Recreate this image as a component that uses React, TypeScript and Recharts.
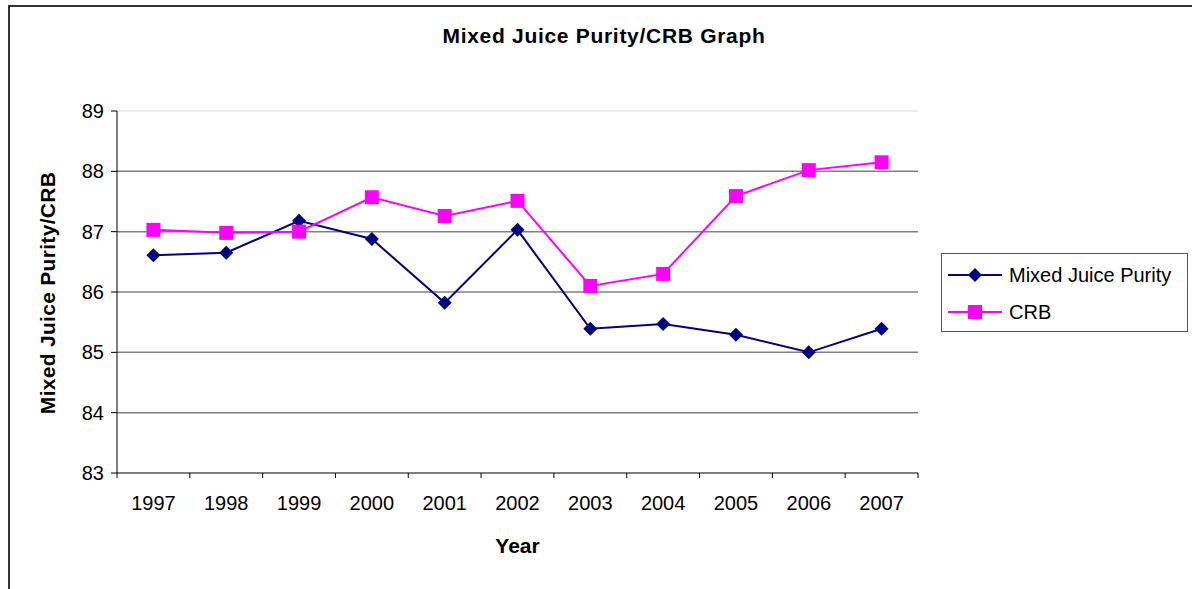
import React from "react";
import { LineChart, Line, XAxis, YAxis, CartesianGrid, ReferenceLine } from "recharts";

const years = ["1997", "1998", "1999", "2000", "2001", "2002", "2003", "2004", "2005", "2006", "2007"];
const mixedJuicePurity = [86.61, 86.65, 87.18, 86.88, 85.82, 87.03, 85.39, 85.47, 85.29, 85.0, 85.39];
const crb = [87.03, 86.98, 87.0, 87.57, 87.26, 87.51, 86.1, 86.3, 87.59, 88.02, 88.15];
const yTicks = [83, 84, 85, 86, 87, 88, 89];
const gridValues = [84, 85, 86, 87, 88];
const xBoundaries = [0, 1, 2, 3, 4, 5, 6, 7, 8, 9, 10, 11];

const data = years.map((y, i) => ({ x: i + 0.5, year: y, mjp: mixedJuicePurity[i], crb: crb[i] }));

const W = 1192;
const H = 589;
const M = { top: 111, right: 274, bottom: 56, left: 0 };
const Y_W = 117;
const X_H = 60;
const PLOT_W = W - M.left - M.right - Y_W;
const FONT = "'Liberation Sans', Arial, sans-serif";
const NAVY = "#000080";
const MAGENTA = "#FF00FF";

const Diamond = (props: any) => {
  const { cx, cy } = props;
  if (cx == null || cy == null) return null;
  const r = 7;
  return <polygon points={`${cx},${cy - r} ${cx + r},${cy} ${cx},${cy + r} ${cx - r},${cy}`} fill={NAVY} />;
};
const Square = (props: any) => {
  const { cx, cy } = props;
  if (cx == null || cy == null) return null;
  return <rect x={cx - 7} y={cy - 7} width={14} height={14} fill={MAGENTA} />;
};

const XTick = (props: any) => {
  const { x, y, payload } = props;
  const i = payload.value;
  if (i >= years.length) return null;
  const half = PLOT_W / years.length / 2;
  return (
    <text x={x + half} y={y} dy="0.71em" textAnchor="middle" fill="#000" fontSize={20} fontFamily={FONT}>
      {years[i]}
    </text>
  );
};

const LegendBox = () => (
  <div style={{ position: "absolute", left: 941, top: 253, width: 245, height: 77, border: "1px solid #555", background: "#fff", fontFamily: FONT, fontSize: 20, color: "#000", textAlign: "left" }}>
    <div style={{ display: "flex", alignItems: "center", height: 38, marginTop: 2 }}>
      <svg width={61} height={20} style={{ marginLeft: 6 }}>
        <line x1={0} y1={10} x2={54} y2={10} stroke={NAVY} strokeWidth={2} />
        <polygon points="27,3 34,10 27,17 20,10" fill={NAVY} />
      </svg>
      <span>Mixed Juice Purity</span>
    </div>
    <div style={{ display: "flex", alignItems: "center", height: 36 }}>
      <svg width={61} height={20} style={{ marginLeft: 6 }}>
        <line x1={0} y1={10} x2={54} y2={10} stroke={MAGENTA} strokeWidth={2} />
        <rect x={20} y={3} width={14} height={14} fill={MAGENTA} />
      </svg>
      <span>CRB</span>
    </div>
  </div>
);

export default function App() {
  return (
    <div style={{ position: "absolute", left: 0, top: 0, width: W, height: H, background: "#fff", overflow: "hidden" }}>
      <div style={{ position: "absolute", left: 8, top: 5, width: 1300, height: 700, borderLeft: "2px solid #333", borderTop: "2px solid #333" }} />
      <div style={{ position: "absolute", left: 0, top: 24, width: 1208, textAlign: "center", fontFamily: FONT, fontWeight: "bold", fontSize: 21, letterSpacing: 0.7, color: "#000" }}>
        Mixed Juice Purity/CRB Graph
      </div>
      <div style={{ position: "absolute", left: 48, top: 293, transform: "translate(-50%, -50%) rotate(-90deg)", whiteSpace: "nowrap", fontFamily: FONT, fontWeight: "bold", fontSize: 21, letterSpacing: 0.3, color: "#000" }}>
        Mixed Juice Purity/CRB
      </div>
      <div style={{ position: "absolute", left: 117, top: 534, width: 801, textAlign: "center", fontFamily: FONT, fontWeight: "bold", fontSize: 21, color: "#000" }}>
        Year
      </div>
      <div style={{ position: "absolute", left: 0, top: 0 }}>
        <LineChart width={W} height={H} data={data} margin={M}>
          <CartesianGrid vertical={false} horizontalValues={gridValues} stroke="#808080" strokeWidth={1.5} />
          <ReferenceLine y={89} stroke="#e6e6e6" strokeWidth={1.5} />
          <XAxis
            dataKey="x"
            type="number"
            domain={[0, 11]}
            ticks={xBoundaries}
            interval={0}
            height={X_H}
            tickSize={5}
            tickMargin={18}
            stroke="#000"
            tick={<XTick />}
            allowDecimals
          />
          <YAxis
            type="number"
            domain={[83, 89]}
            ticks={yTicks}
            interval={0}
            width={Y_W}
            tickSize={6}
            tickMargin={7}
            stroke="#000"
            tick={{ fill: "#000", fontSize: 20, fontFamily: FONT }}
          />
          <Line dataKey="mjp" name="Mixed Juice Purity" stroke={NAVY} strokeWidth={2} dot={<Diamond />} activeDot={false} isAnimationActive={false} />
          <Line dataKey="crb" name="CRB" stroke={MAGENTA} strokeWidth={2} dot={<Square />} activeDot={false} isAnimationActive={false} />
        </LineChart>
      </div>
      <LegendBox />
    </div>
  );
}
